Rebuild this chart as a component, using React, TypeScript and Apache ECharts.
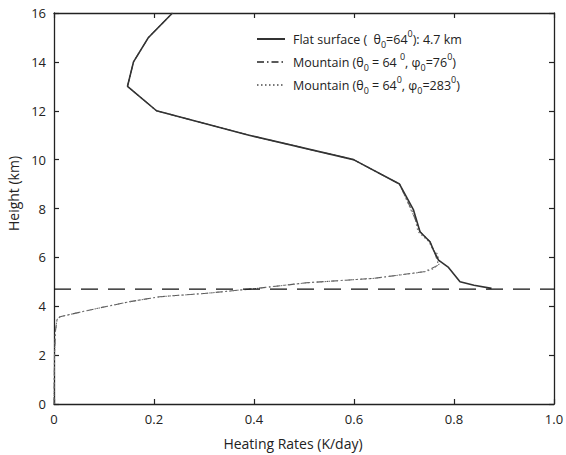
import React, { useEffect, useRef } from "react";
import * as echarts from "echarts";

// Flat surface (solid)
const flatX = [0.237, 0.189, 0.159, 0.147, 0.205, 0.39, 0.599, 0.691, 0.719, 0.732, 0.752, 0.759, 0.769, 0.789, 0.812, 0.84, 0.875];
const flatY = [16, 15, 14, 13, 12, 11, 10, 9.0, 7.94, 7.05, 6.64, 6.3, 5.89, 5.59, 5.0, 4.86, 4.73];

// Mountain phi0=76 (dash-dot)
const m1X = [0, 0.001, 0.003, 0.006, 0.012, 0.072, 0.152, 0.212, 0.305, 0.405, 0.505, 0.639, 0.739, 0.752, 0.769, 0.762, 0.759, 0.752, 0.732, 0.716, 0.691, 0.599, 0.39, 0.205, 0.147, 0.159, 0.189, 0.237];
const m1Y = [0, 2, 3.0, 3.45, 3.57, 3.85, 4.19, 4.39, 4.53, 4.73, 4.96, 5.14, 5.41, 5.51, 5.69, 6.16, 6.3, 6.64, 7.05, 7.9, 9.0, 10, 11, 12, 13, 14, 15, 16];

// Mountain phi0=283 (dotted)
const m2X = [0, 0.001, 0.003, 0.006, 0.012, 0.072, 0.152, 0.212, 0.305, 0.405, 0.505, 0.639, 0.741, 0.757, 0.772, 0.766, 0.758, 0.75, 0.728, 0.722, 0.714, 0.691, 0.599, 0.39, 0.205, 0.147, 0.159, 0.189, 0.237];
const m2Y = [0, 2, 3.0, 3.45, 3.57, 3.85, 4.19, 4.39, 4.53, 4.73, 4.96, 5.14, 5.41, 5.52, 5.75, 6.16, 6.3, 6.64, 7.05, 7.6, 7.94, 9.0, 10, 11, 12, 13, 14, 15, 16];

// Reference height line
const refX = [0, 1.0];
const refY = [4.7, 4.7];

const seriesNames = [
  "Flat surface ( θ0=64°): 4.7 km",
  "Mountain (θ0 = 64°, φ0=76°)",
  "Mountain (θ0 = 64°, φ0=283°)",
];
const legendRich = [
  "Flat surface (  θ{sub|0}=64{sup|0}): 4.7 km",
  "Mountain (θ{sub|0} = 64 {sup|0}, φ{sub|0}=76{sup|0})",
  "Mountain (θ{sub|0} = 64{sup|0}, φ{sub|0}=283{sup|0})",
];

const xTickLabels = ["0", "0.2", "0.4", "0.6", "0.8", "1.0"];
const yTickLabels = ["0", "2", "4", "6", "8", "10", "12", "14", "16"];

const pairs = (xs: number[], ys: number[]) => xs.map((x, i) => [x, ys[i]]);

const FONT = "'Open Sans', 'Noto Sans', sans-serif";
const AX = "#222";

export default function App() {
  const ref = useRef<HTMLDivElement>(null);
  useEffect(() => {
    if (!ref.current) return;
    const chart = echarts.init(ref.current, undefined, { renderer: "svg" });
    const axisCommon = {
      type: "value" as const,
      axisLine: { show: true, onZero: false, lineStyle: { color: AX, width: 1.3 } },
      axisTick: { show: true, inside: true, length: 5, lineStyle: { color: AX, width: 1.2 } },
      splitLine: { show: false },
    };
    chart.setOption({
      animation: false,
      backgroundColor: "#ffffff",
      grid: { left: 54, right: 12, top: 13, bottom: 51, containLabel: false, outerBoundsMode: "none" },
      legend: {
        orient: "vertical",
        left: 251,
        top: 24,
        itemWidth: 28,
        itemHeight: 10,
        itemGap: 3,
        data: seriesNames,
        itemStyle: { opacity: 0 },
        formatter: (name: string) => legendRich[seriesNames.indexOf(name)] ?? name,
        textStyle: {
          fontFamily: FONT,
          fontSize: 12.5,
          color: "#222",
          lineHeight: 20,
          padding: [0, 0, 0, 3],
          rich: {
            sub: { fontFamily: FONT, fontSize: 9, lineHeight: 11, verticalAlign: "bottom", color: "#222" },
            sup: { fontFamily: FONT, fontSize: 9, lineHeight: 12, verticalAlign: "top", color: "#222" },
          },
        },
      },
      xAxis: [
        {
          ...axisCommon,
          min: 0,
          max: 1,
          interval: 0.2,
          position: "bottom",
          name: "Heating Rates (K/day)",
          nameLocation: "middle",
          nameGap: 32,
          nameTextStyle: { fontFamily: FONT, fontSize: 14, color: "#222", padding: [0, 22, 0, 0] },
          axisLabel: {
            margin: 8,
            fontFamily: FONT,
            fontSize: 13,
            color: "#222",
            formatter: (_v: number, i: number) => xTickLabels[i],
          },
        },
        {
          ...axisCommon,
          min: 0,
          max: 1,
          interval: 0.2,
          position: "top",
          axisLabel: { show: false },
        },
      ],
      yAxis: [
        {
          ...axisCommon,
          min: 0,
          max: 16,
          interval: 2,
          position: "left",
          name: "Height (km)",
          nameLocation: "middle",
          nameGap: 32,
          nameTextStyle: { fontFamily: FONT, fontSize: 14, color: "#222", padding: [0, 0, 0, 30] },
          axisLabel: {
            margin: 8,
            fontFamily: FONT,
            fontSize: 13,
            color: "#222",
            formatter: (_v: number, i: number) => yTickLabels[i],
          },
        },
        {
          ...axisCommon,
          min: 0,
          max: 16,
          interval: 2,
          position: "right",
          axisLabel: { show: false },
        },
      ],
      series: [
        {
          name: seriesNames[1],
          type: "line",
          symbol: "none",
          z: 2,
          data: pairs(m1X, m1Y),
          lineStyle: { color: "#5a5a5a", width: 1.1, type: [7, 3, 1.5, 3] },
          itemStyle: { color: "#5a5a5a" },
        },
        {
          name: seriesNames[2],
          type: "line",
          symbol: "none",
          z: 3,
          data: pairs(m2X, m2Y),
          lineStyle: { color: "#777", width: 1.1, type: [1.5, 2.5] },
          itemStyle: { color: "#777" },
        },
        {
          name: seriesNames[0],
          type: "line",
          symbol: "none",
          z: 4,
          data: pairs(flatX, flatY),
          lineStyle: { color: "#333", width: 1.6, type: "solid" },
          itemStyle: { color: "#333" },
        },
        {
          name: "ref",
          type: "line",
          symbol: "none",
          z: 5,
          data: pairs(refX, refY),
          lineStyle: { color: "#111", width: 1.3, type: [17, 10] },
          itemStyle: { color: "#111" },
        },
      ],
    });
    return () => chart.dispose();
  }, []);
  return (
    <div
      ref={ref}
      style={{ position: "fixed", left: 0, top: 0, width: 566, height: 455, background: "#fff" }}
    />
  );
}
